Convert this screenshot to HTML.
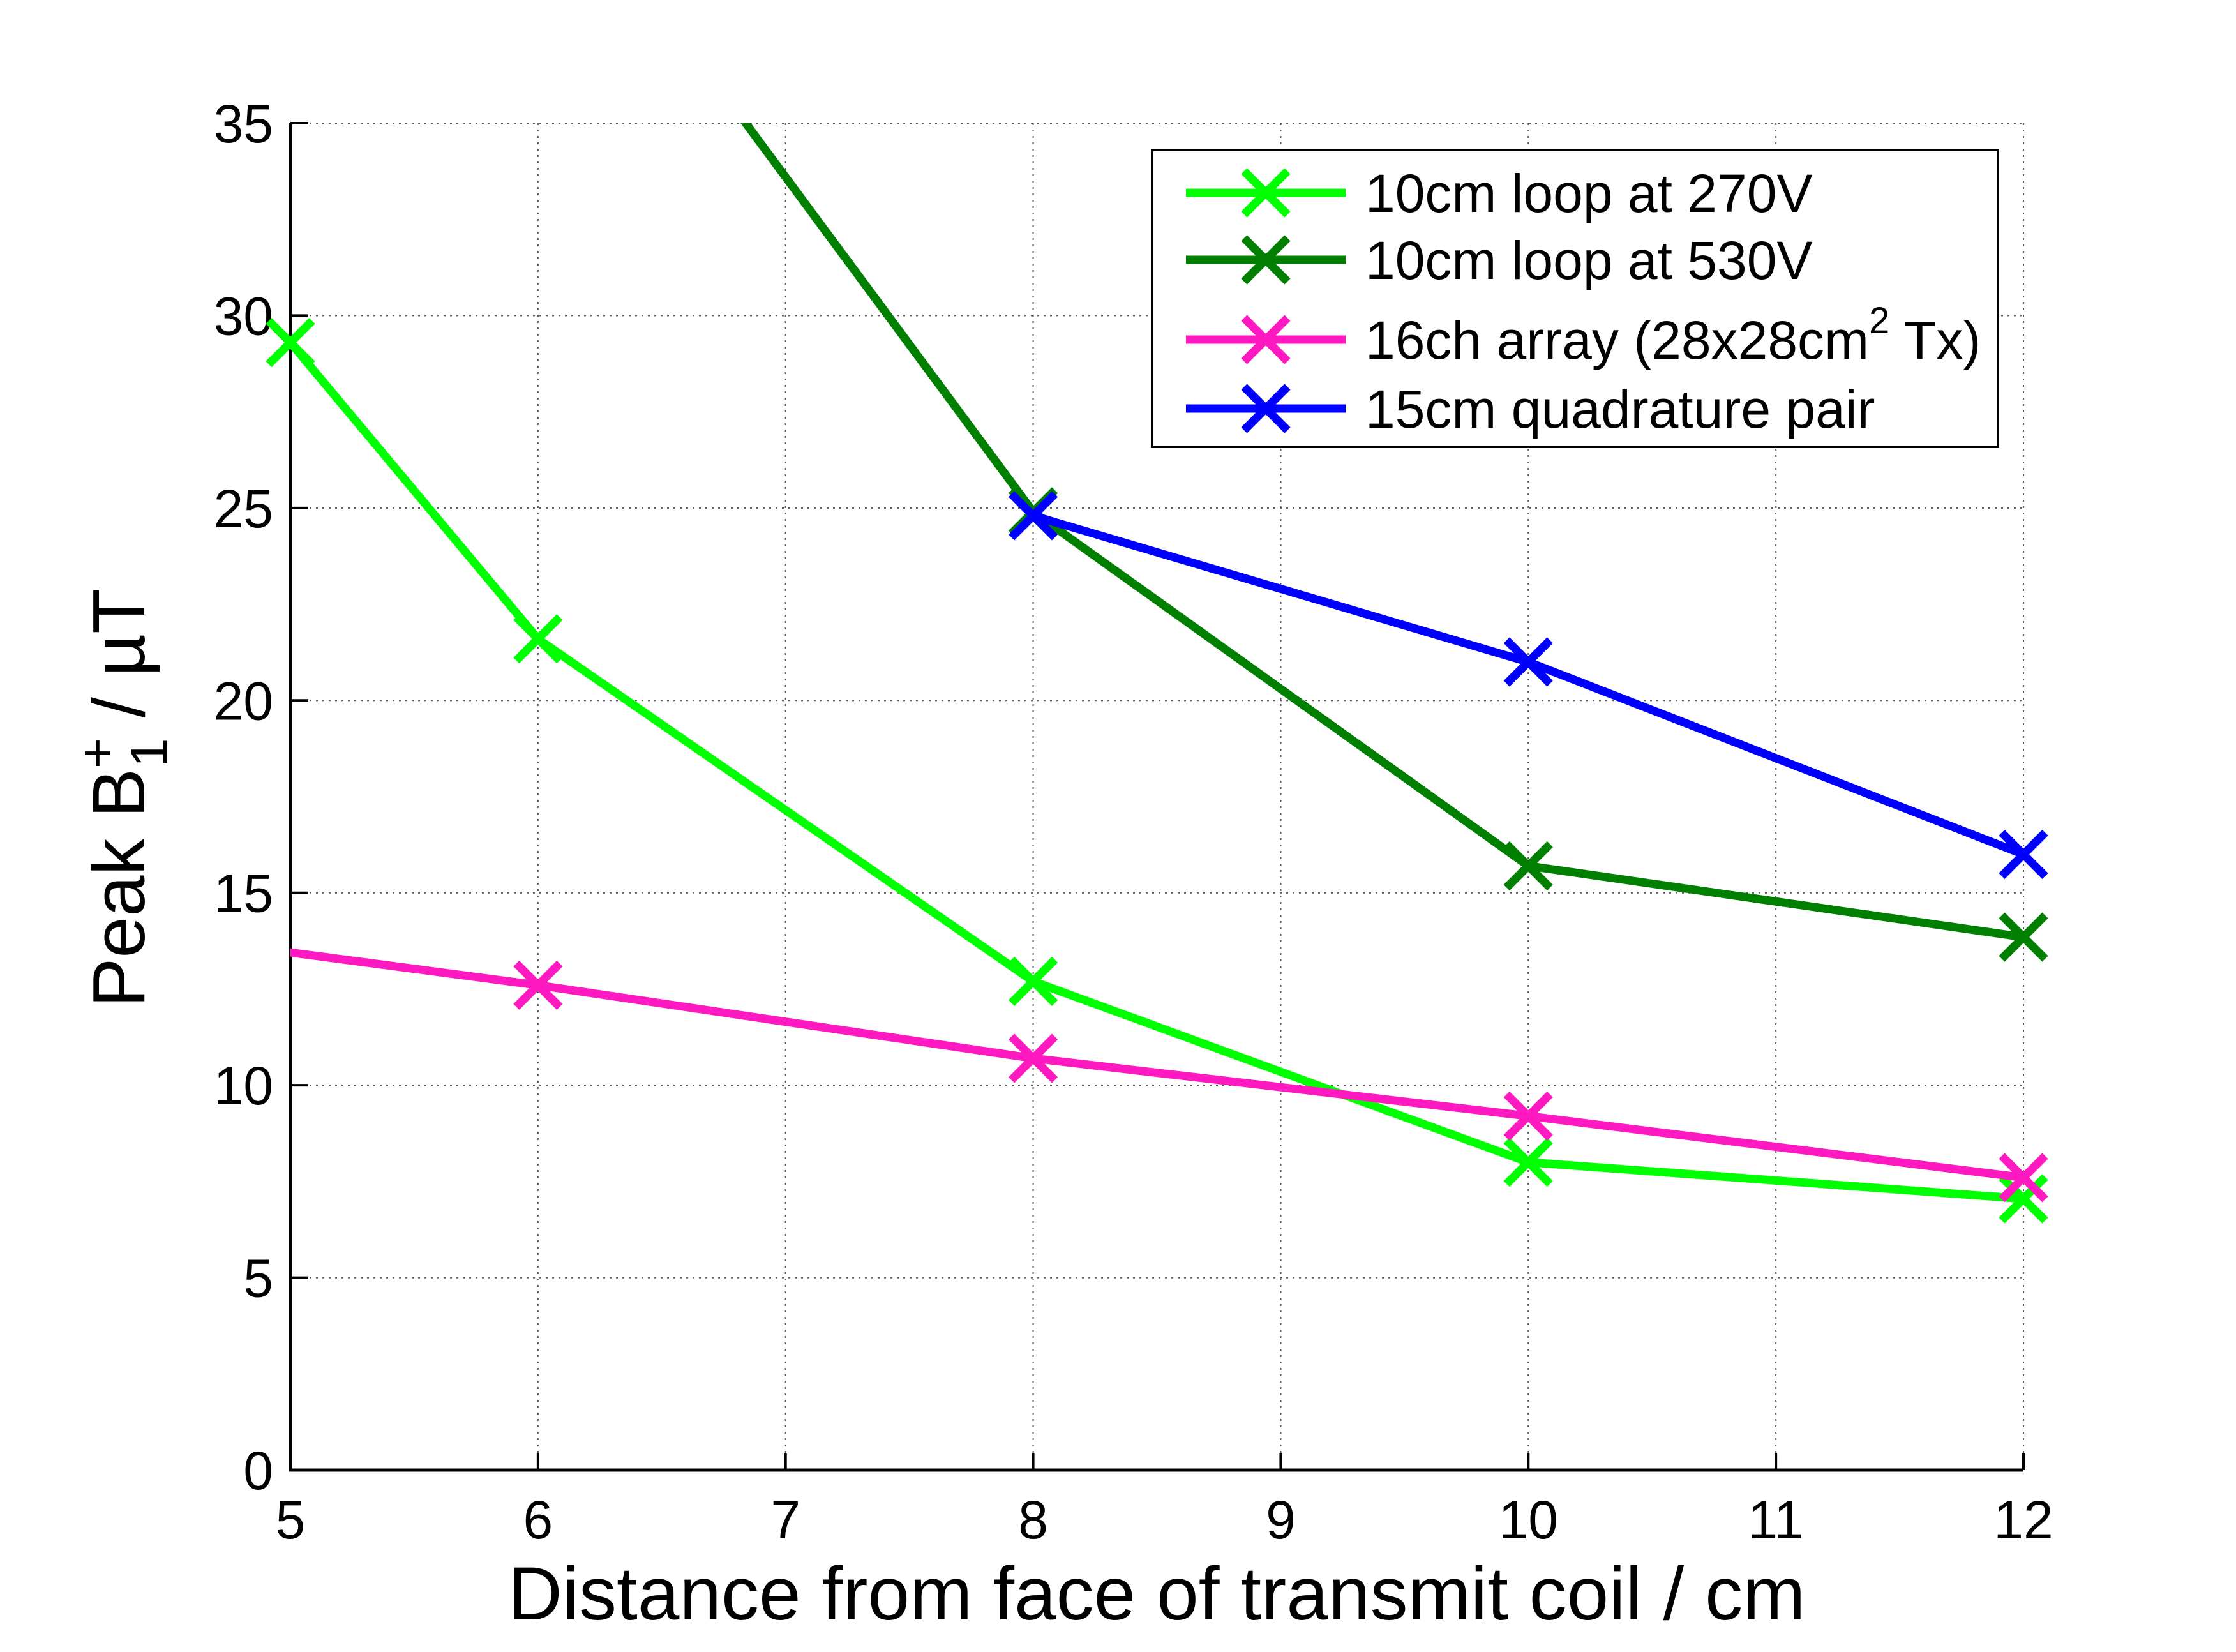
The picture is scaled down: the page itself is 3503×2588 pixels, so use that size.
<!DOCTYPE html>
<html><head><meta charset="utf-8"><style>
html,body{margin:0;padding:0;background:#fff;}
svg{display:block;font-family:"Liberation Sans",sans-serif;}
</style></head><body>
<svg id="chart" width="3503" height="2588" viewBox="0 0 3503 2588" xmlns="http://www.w3.org/2000/svg">
<defs><clipPath id="pc"><rect x="455" y="193" width="2715" height="2110"/></clipPath></defs>
<g id="grid"></g>
<g id="axes"></g>
<g id="series"></g>
<g id="legend"></g>
<text x="1812" y="2537" font-size="118" text-anchor="middle">Distance from face of transmit coil / cm</text>
<text transform="translate(226,1250) rotate(-90)" font-size="116" text-anchor="middle">Peak B<tspan font-size="82" dy="-46">+</tspan><tspan font-size="82" dx="-46" dy="82">1</tspan><tspan dy="-36"> / µT</tspan></text>
</svg>
<script>
const xTicks=[5,6,7,8,9,10,11,12];
const yTicks=[0,5,10,15,20,25,30,35];
const seriesNames=["10cm loop at 270V","10cm loop at 530V","16ch array (28x28cm","15cm quadrature pair"];
const seriesColors=["#00ff00","#007f00","#ff19c0","#0000ff"];
const xLight=[5,6,8,10,12];
const yLight=[29.3,21.6,12.7,8.0,7.05];
const xDark=[6,8,10,12];
const yDark=[42.3,24.9,15.7,13.85];
const xPink=[4,6,8,10,12];
const yPink=[14.3,12.6,10.7,9.2,7.6];
const xBlue=[8,10,12];
const yBlue=[24.8,21.0,16.0];

const NS="http://www.w3.org/2000/svg";
const X0=455,X1=3170,Y0=2303,Y1=193;
const sx=v=>X0+(v-5)/(12-5)*(X1-X0);
const sy=v=>Y0-(v-0)/(35-0)*(Y0-Y1);
function mk(t,a,p){const e=document.createElementNS(NS,t);for(const k in a)e.setAttribute(k,a[k]);p.appendChild(e);return e;}
const grid=document.getElementById('grid'),axes=document.getElementById('axes'),ser=document.getElementById('series'),leg=document.getElementById('legend');
xTicks.forEach(v=>{
  const g=mk('line',{x1:sx(v),x2:sx(v),y1:Y1,y2:Y0,stroke:'#555','stroke-width':2,'stroke-dasharray':'3,7'},grid);
  
  
  const t=mk('line',{x1:sx(v),x2:sx(v),y1:Y0,y2:Y0-26,stroke:'#000','stroke-width':4},axes);
  
  
  const l=mk('text',{x:sx(v),y:2410,'font-size':84,'text-anchor':'middle'},axes);l.textContent=v;
  
  
});
yTicks.forEach(v=>{
  const g=mk('line',{x1:X0,x2:X1,y1:sy(v),y2:sy(v),stroke:'#555','stroke-width':2,'stroke-dasharray':'3,7'},grid);
  
  
  const t=mk('line',{x1:X0,x2:X0+28,y1:sy(v),y2:sy(v),stroke:'#000','stroke-width':4},axes);
  
  
  const l=mk('text',{x:428,y:sy(v)+30,'font-size':84,'text-anchor':'end'},axes);l.textContent=v;
  
  
});
const ax=mk('path',{d:`M${X0},${Y1} L${X0},${Y0} L${X1},${Y0}`,fill:'none',stroke:'#000','stroke-width':5},axes);


function marker(cx,cy,c,p){
  const s=34;
  const m=mk('path',{d:`M${cx-s},${cy-s}L${cx+s},${cy+s}M${cx-s},${cy+s}L${cx+s},${cy-s}`,stroke:c,'stroke-width':13,fill:'none'},p);
  
  
}
function drawSeries(xs,ys,c,name){
  const pts=xs.map((x,i)=>sx(x)+','+sy(ys[i])).join(' ');
  const pl=mk('polyline',{points:pts,fill:'none',stroke:c,'stroke-width':13,'stroke-linejoin':'round','clip-path':'url(#pc)'},ser);
  
  
  xs.forEach((x,i)=>{ if(x>=5&&x<=12&&ys[i]>=0&&ys[i]<=35) marker(sx(x),sy(ys[i]),c,ser); });
}
drawSeries(xLight,yLight,seriesColors[0],'series-270v-line');
drawSeries(xDark,yDark,seriesColors[1],'series-530v-line');
drawSeries(xPink,yPink,seriesColors[2],'series-16ch-line');
drawSeries(xBlue,yBlue,seriesColors[3],'series-15cm-line');
const box=mk('rect',{x:1805,y:235,width:1325,height:465,fill:'#fff',stroke:'#000','stroke-width':4},leg);


const rows=[302,407,532,640];
seriesNames.forEach((n,i)=>{
  const y=rows[i];
  const l=mk('line',{x1:1858,x2:2108,y1:y,y2:y,stroke:seriesColors[i],'stroke-width':13},leg);
  
  
  marker(1983,y,seriesColors[i],leg);
  const t=mk('text',{x:2139,y:y+30,'font-size':84},leg);
  t.textContent=n;
  if(i===2){const s1=mk('tspan',{'font-size':58,dy:-40},t);s1.textContent='2';const s2=mk('tspan',{dy:40},t);s2.textContent=' Tx)';}
  
  
});
</script>
</body></html>
